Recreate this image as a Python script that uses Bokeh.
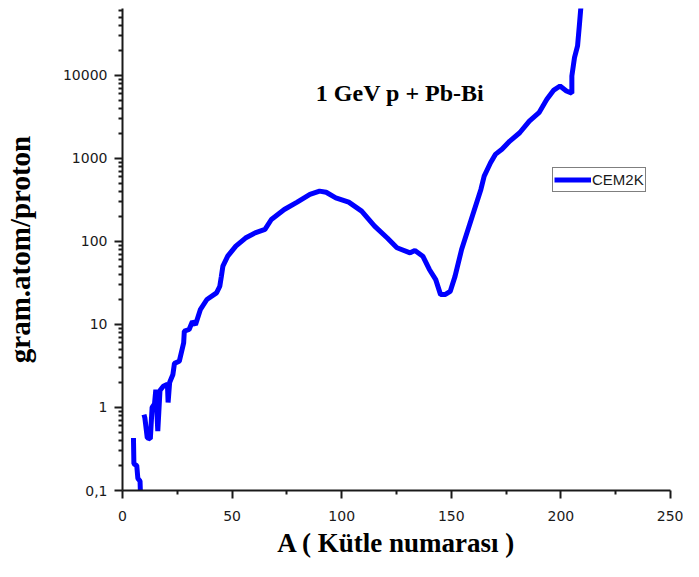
import math
from bokeh.plotting import figure
from bokeh.models import Range1d, FixedTicker, CustomJSTickFormatter, Label
from bokeh.embed import file_html
from bokeh.resources import INLINE

nan = float("nan")

# Mass number A (x) and yield gram.atom/proton (y); NaN breaks the line
mass_A = [5.0, 5.2, 6.5, 7.0, 8.0, 8.2, nan,
          9.8, 10.2, 11.3, 12.7, 13.5, 14.6, 15.2, 16.1, 17.1, 18.6, 20.5, 20.8, 21.5, 23.0,
          23.7, 25.9, 27.9, 28.2, 30.4, 31.9, 33.3, 35.5, 38.5, 42.9, 44.4, 45.1, 45.8, 48.0,
          51.7, 56.1, 60.5, 65.0, 67.9, 73.8, 79.7, 85.5, 89.9, 92.9, 97.3, 103.2, 109.1,
          115.0, 120.8, 125.2, 131.2, 133.4, 137.0, 140.0, 142.9, 145.1, 147.3, 149.5,
          151.7, 154.7, 159.1, 163.5, 165.0, 167.9, 170.1, 173.1, 176.7, 181.2, 185.6,
          190.0, 193.6, 196.6, 199.6, 202.5, 205.0, 205.0, 206.2, 207.6, 208.4, 209.1]
yield_cem2k = [0.43, 0.21, 0.20, 0.14, 0.13, 0.09, nan,
               0.82, 0.75, 0.43, 0.42, 1.0, 1.1, 1.64, 0.52, 1.6, 1.8, 1.9, 1.15, 2.0, 2.5,
               3.4, 3.6, 6.0, 8.3, 8.7, 10.9, 9.9, 15.1, 20.0, 24.0, 28.9, 38.0, 50.6, 66.5,
               87.8, 110, 127, 140, 184, 243, 298, 369, 404, 392, 336, 298, 232,
               153, 110, 84, 73, 78, 66.5, 46, 34.7, 22.9, 23.0, 25.0,
               38, 80, 184, 424, 614, 888, 1120, 1290, 1620, 2040, 2820,
               3560, 5160, 6610, 7460, 6500, 6100, 9860, 16400, 22700, 39500, 65800]

x_ticks = [0, 50, 100, 150, 200, 250]
x_minor = [25, 75, 125, 175, 225]
y_ticks = [0.1, 1, 10, 100, 1000, 10000]
y_minor = [k * 10 ** n for n in range(-1, 5) for k in range(2, 10) if k * 10 ** n <= 70000]

title_text = "1 GeV p + Pb-Bi"
series_name = "CEM2K"

p = figure(width=683, height=561, y_axis_type="log",
           x_range=Range1d(0, 250), y_range=Range1d(0.1, 64100),
           output_backend="svg", toolbar_location=None,
           min_border_left=118, min_border_right=13, min_border_top=8, min_border_bottom=71)
p.outline_line_color = None
p.xgrid.visible = False
p.ygrid.visible = False
p.background_fill_color = "white"

p.line(mass_A, yield_cem2k, line_color="#0000FF", line_width=5, legend_label=series_name)

tick_font = "DejaVu Sans"
for ax in (p.xaxis[0], p.yaxis[0]):
    ax.axis_line_width = 2
    ax.axis_line_color = "#1a1a1a"
    ax.major_tick_line_width = 2
    ax.minor_tick_line_width = 2
    ax.major_tick_line_color = "#1a1a1a"
    ax.minor_tick_line_color = "#1a1a1a"
    ax.major_tick_in = 0
    ax.major_tick_out = 8
    ax.minor_tick_in = 0
    ax.minor_tick_out = 4
    ax.major_label_text_font = tick_font
    ax.major_label_text_font_size = "14px"
    ax.major_label_text_color = "#1a1a1a"
    ax.axis_label_text_font = "Liberation Serif"
    ax.axis_label_text_font_style = "bold"
    ax.axis_label_text_color = "black"

p.xaxis.ticker = FixedTicker(ticks=x_ticks, minor_ticks=x_minor)
p.yaxis.ticker = FixedTicker(ticks=y_ticks, minor_ticks=y_minor)
p.yaxis.formatter = CustomJSTickFormatter(
    code="return tick < 1 ? tick.toString().replace('.', ',') : tick.toFixed(0);")

p.xaxis.axis_label = "A ( Kütle numarası )"
p.xaxis.axis_label_text_font_size = "27px"
p.xaxis.major_label_standoff = 12
p.xaxis.axis_label_standoff = 4

p.yaxis.axis_label = "gram.atom/proton"
p.yaxis.axis_label_text_font_size = "29px"
p.yaxis.major_label_standoff = 7
p.yaxis.axis_label_standoff = 24

p.add_layout(Label(x=126.6, y=6070, text=title_text, text_align="center",
                   text_baseline="alphabetic", text_font="Liberation Serif",
                   text_font_style="bold", text_font_size="24px", text_color="black"))

lg = p.legend[0]
lg.location = (430, 298)
lg.border_line_color = "black"
lg.border_line_width = 1.5
lg.background_fill_alpha = 1
lg.padding = 1
lg.margin = 0
lg.spacing = 0
lg.glyph_width = 37
lg.glyph_height = 21
lg.label_height = 21
lg.label_standoff = 1
lg.label_text_font = "Liberation Sans"
lg.label_text_font_size = "15px"
lg.label_text_color = "#1a1a1a"

open("out.html", "w").write(file_html(p, INLINE))
